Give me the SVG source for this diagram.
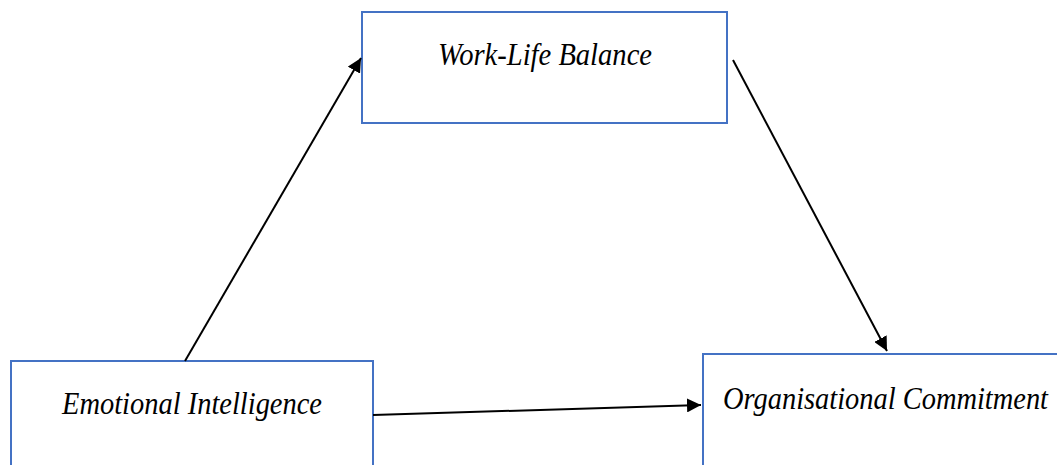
<svg xmlns="http://www.w3.org/2000/svg" width="1057" height="465" viewBox="0 0 1057 465">
<style>
.box{fill:#fff;stroke:#4472C4;stroke-width:2}
.lbl{font-family:"Liberation Serif",serif;font-style:italic;font-size:31px;fill:#000}
.conn{stroke:#000;stroke-width:2;fill:none}
</style>
<defs>
<marker id="ah" viewBox="0 0 10 10" refX="10" refY="5" markerWidth="7" markerHeight="7" markerUnits="strokeWidth" orient="auto">
<path d="M0,0 L10,5 L0,10 Z" fill="#000"/>
</marker>
</defs>
<rect width="1057" height="465" fill="#fff"/>
<g id="wlb">
<rect class="box" x="362" y="12" width="365" height="111"/>
<text class="lbl" x="438" y="65" textLength="214" lengthAdjust="spacingAndGlyphs">Work-Life Balance</text>
</g>
<g id="ei">
<rect class="box" x="11" y="361" width="362" height="110"/>
<text class="lbl" x="62" y="414" textLength="260" lengthAdjust="spacingAndGlyphs">Emotional Intelligence</text>
</g>
<g id="oc">
<rect class="box" x="703" y="354" width="360" height="120"/>
<text class="lbl" x="723" y="409" textLength="325" lengthAdjust="spacingAndGlyphs">Organisational Commitment</text>
</g>
<g id="connectors">
<line class="conn" x1="185" y1="361" x2="361" y2="58" marker-end="url(#ah)"/>
<line class="conn" x1="733" y1="60" x2="887" y2="351" marker-end="url(#ah)"/>
<line class="conn" x1="373" y1="415" x2="701" y2="405" marker-end="url(#ah)"/>
</g>
</svg>
